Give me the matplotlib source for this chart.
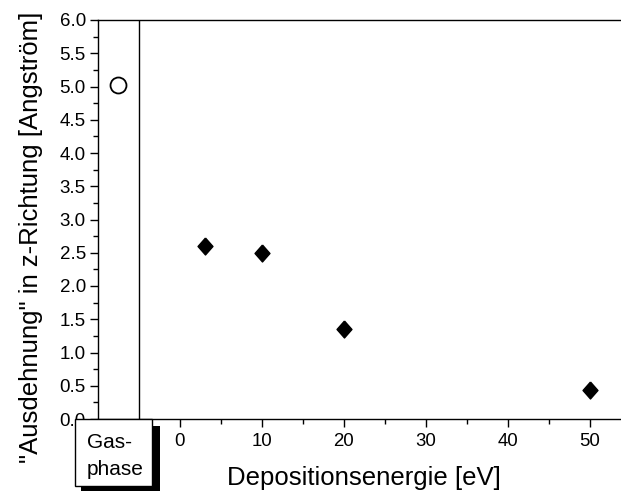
import matplotlib
matplotlib.use("Agg")
import matplotlib.pyplot as plt
from matplotlib.patches import Rectangle
from matplotlib.ticker import MultipleLocator, FormatStrFormatter

plt.rcParams["font.family"] = ["Liberation Sans", "DejaVu Sans"]

# 数据
gas_x = [-7.5]
gas_y = [5.02]
energy = [3, 10, 20, 50]
extent = [2.6, 2.5, 1.36, 0.43]

W, H = 621, 491
fig = plt.figure(figsize=(W / 100, H / 100), dpi=100)

# 主坐标轴（像素位置换算）
left, right, top, bottom = 98, 621, 20, 419
ax = fig.add_axes([left / W, 1 - bottom / H, (right - left) / W, (bottom - top) / H])

# 略高于宽的菱形
diamond = [(0, 1), (0.88, 0), (0, -1), (-0.88, 0), (0, 1)]
ax.plot(gas_x, gas_y, "o", mfc="white", mec="black", ms=11.5, mew=1.3)
ax.plot(energy, extent, marker=diamond, ls="none", color="black", ms=12.2)

ax.axvline(-5, color="black", lw=1.0)

ax.set_xlim(-10, 53.8)
ax.set_ylim(0, 6)
ax.set_xticks([0, 10, 20, 30, 40, 50])
ax.xaxis.set_minor_locator(MultipleLocator(5))
ax.yaxis.set_major_locator(MultipleLocator(0.5))
ax.yaxis.set_minor_locator(MultipleLocator(0.25))
ax.yaxis.set_major_formatter(FormatStrFormatter("%.1f"))

ax.spines["right"].set_visible(False)
for s in ("left", "top", "bottom"):
    ax.spines[s].set_linewidth(1.0)

ax.tick_params(axis="both", which="major", direction="out", length=5.8, width=1.0)
ax.tick_params(axis="both", which="minor", direction="out", length=3.4, width=1.0)
ax.tick_params(axis="x", which="major", labelsize=13.4, pad=4)
ax.tick_params(axis="y", which="major", labelsize=13.5, pad=3)

# 轴标题用 fig.text 精确定位
fig.text(364 / W, 1 - 485 / H, "Depositionsenergie [eV]", fontsize=18.5,
         ha="center", va="baseline")
fig.text(31 / W, 1 - 237.5 / H, "\"Ausdehnung\" in z-Richtung [Angström]",
         fontsize=18.5, rotation=90, ha="center", va="center")

# "Gasphase" 标签框 + 阴影
def px_rect(x0, y0, x1, y1, **kw):
    return Rectangle((x0 / W, 1 - y1 / H), (x1 - x0) / W, (y1 - y0) / H,
                     transform=fig.transFigure, clip_on=False, **kw)

fig.patches.append(px_rect(81, 426, 160, 491, facecolor="black", edgecolor="none", zorder=5))
fig.patches.append(px_rect(75, 419, 152, 486, facecolor="white", edgecolor="black", lw=1.0, zorder=6))
fig.text(87 / W, 1 - 448 / H, "Gas-", fontsize=15, ha="left", va="baseline", zorder=7)
fig.text(87 / W, 1 - 475 / H, "phase", fontsize=15, ha="left", va="baseline", zorder=7)

plt.savefig("out.png", dpi=100)
